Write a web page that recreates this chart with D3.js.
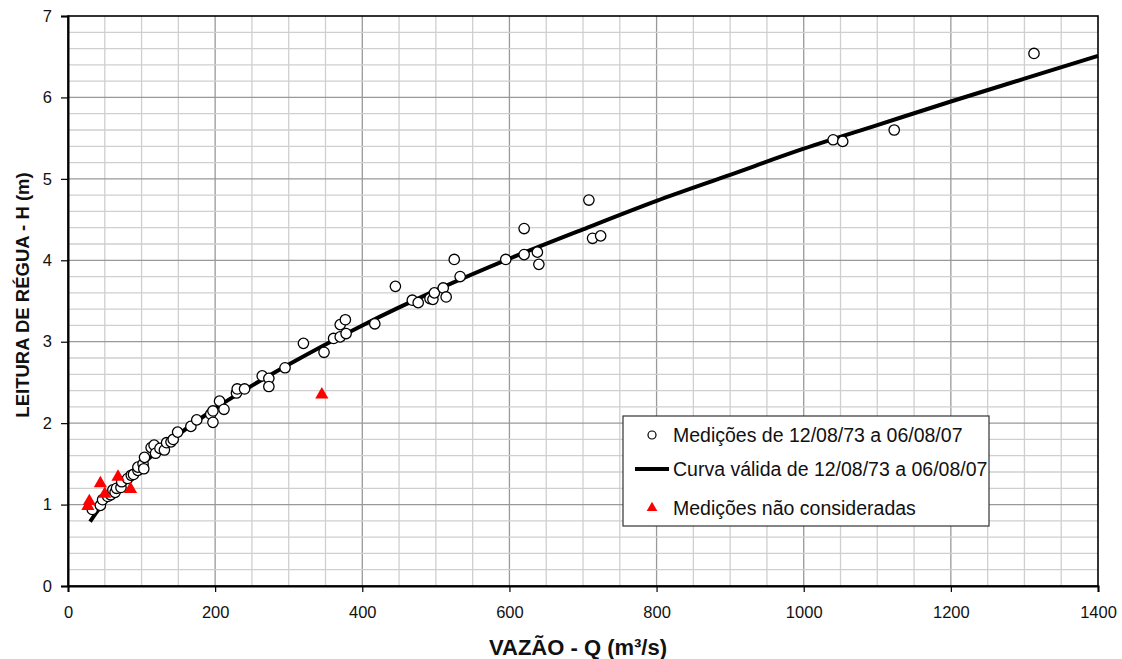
<!DOCTYPE html>
<html>
<head>
  <meta charset="utf-8">
  <title>Curva-chave</title>
  <script src="https://cdn.jsdelivr.net/npm/d3@7"></script>
  <style>
    body { margin: 0; background: #fff; }
    svg text { font-family: Arial, "Liberation Sans", sans-serif; fill: #111; }
  </style>
</head>
<body>
<script>

// measured points (Q m3/s, H m)
var medQ = [33,44,47,54,58,61,64,66,72,73,81,86,89,95,95,102,103,104,113,117,119,125,131,134,140,143,149,
            167,175,194,197,197,206,212,229,230,240,264,273,273,295,320,348,361,370,370,377,378,417,445,
            468,476,492,496,498,510,514,525,533,595,620,620,638,640,708,713,724,1040,1053,1123,1313];
var medH = [0.94,0.99,1.06,1.10,1.12,1.18,1.15,1.20,1.21,1.28,1.32,1.36,1.37,1.42,1.46,1.50,1.44,1.58,1.70,1.73,1.63,1.69,1.67,1.76,1.77,1.80,1.89,
            1.96,2.04,2.11,2.15,2.01,2.27,2.17,2.37,2.42,2.42,2.58,2.55,2.45,2.68,2.98,2.87,3.04,3.06,3.21,3.27,3.10,3.22,3.68,
            3.51,3.48,3.53,3.52,3.60,3.66,3.55,4.01,3.80,4.01,4.39,4.07,4.10,3.95,4.74,4.27,4.30,5.48,5.46,5.60,6.54];

// discarded measurements
var naoQ = [27,29,44,50,68,85,345];
var naoH = [0.98,1.04,1.26,1.13,1.34,1.19,2.35];

// rating curve
var curvaQ = [30,40,50,75,100,150,200,300,400,500,600,700,800,900,1000,1100,1200,1300,1400];
var curvaH = [0.79,0.92,1.03,1.28,1.49,1.86,2.18,2.72,3.20,3.63,4.02,4.38,4.73,5.05,5.37,5.66,5.95,6.23,6.51];

var xTicks = [0,200,400,600,800,1000,1200,1400];
var yTicks = [0,1,2,3,4,5,6,7];

var legendLabels = ["Medições de 12/08/73 a 06/08/07",
                    "Curva válida de 12/08/73 a 06/08/07",
                    "Medições não consideradas"];

var W = 1122, H = 659;
var m = {left: 68, right: 24, top: 16, bottom: 73};

var svg = d3.select("body").append("svg")
    .attr("width", W)
    .attr("height", H);

var x = d3.scaleLinear().domain([0, 1400]).range([m.left, W - m.right]);
var y = d3.scaleLinear().domain([0, 7]).range([H - m.bottom, m.top]);

// grid
var g = svg.append("g");
g.selectAll(".vmin").data(d3.range(50, 1400, 50))
  .enter().append("line")
    .attr("x1", function(d) { return x(d); }).attr("x2", function(d) { return x(d); })
    .attr("y1", y(0)).attr("y2", y(7))
    .attr("stroke", function(d) { return d % 200 == 0 ? "#999" : "#cfcfcf"; })
    .attr("stroke-width", 1.3);
g.selectAll(".hmin").data(d3.range(1, 35).map(function(i) { return i * 0.2; }))
  .enter().append("line")
    .attr("x1", x(0)).attr("x2", x(1400))
    .attr("y1", function(d) { return y(d); }).attr("y2", function(d) { return y(d); })
    .attr("stroke", function(d) { return Math.abs(d - Math.round(d)) < 1e-6 ? "#999" : "#cfcfcf"; })
    .attr("stroke-width", 1.3);

// frame
svg.append("rect")
    .attr("x", x(0)).attr("y", y(7))
    .attr("width", x(1400) - x(0)).attr("height", y(0) - y(7))
    .attr("fill", "none").attr("stroke", "#000").attr("stroke-width", 1.6);

// axes
var xAxis = svg.append("g")
    .attr("transform", "translate(0," + y(0) + ")")
    .call(d3.axisBottom(x).tickValues(xTicks).tickFormat(d3.format("d")).tickSize(6).tickPadding(14));
var yAxis = svg.append("g")
    .attr("transform", "translate(" + x(0) + ",0)")
    .call(d3.axisLeft(y).tickValues(yTicks).tickFormat(d3.format("d")).tickSize(7).tickPadding(9));
[xAxis, yAxis].forEach(function(a) {
  a.attr("font-size", null);
  a.select(".domain").attr("stroke", "#000").attr("stroke-width", 2);
  a.selectAll(".tick line").attr("stroke", "#000").attr("stroke-width", 1.2);
  a.selectAll(".tick text").attr("font-size", 16.5).attr("fill", "#111")
    .style("font-family", "Arial, 'Liberation Sans', sans-serif");
});

// curve
var line = d3.line()
    .x(function(d) { return x(d[0]); })
    .y(function(d) { return y(d[1]); })
    .curve(d3.curveMonotoneX);
svg.append("path")
    .datum(d3.zip(curvaQ, curvaH))
    .attr("d", line)
    .attr("fill", "none")
    .attr("stroke", "#000")
    .attr("stroke-width", 4);

// measurements
svg.selectAll(".med").data(d3.zip(medQ, medH))
  .enter().append("circle")
    .attr("cx", function(d) { return x(d[0]); })
    .attr("cy", function(d) { return y(d[1]); })
    .attr("r", 5.2)
    .attr("fill", "#fff")
    .attr("stroke", "#000")
    .attr("stroke-width", 1.3);

var tri = d3.symbol().type(d3.symbolTriangle).size(75);
svg.selectAll(".nao").data(d3.zip(naoQ, naoH))
  .enter().append("path")
    .attr("d", tri)
    .attr("transform", function(d) { return "translate(" + x(d[0]) + "," + y(d[1]) + ")"; })
    .attr("fill", "#ff0000");

// legend
var lg = svg.append("g").attr("transform", "translate(623,416)");
lg.append("rect")
    .attr("width", 366).attr("height", 110)
    .attr("fill", "#fff").attr("stroke", "#333").attr("stroke-width", 1.2);
var rowY = [19, 53, 92];
lg.append("circle").attr("cx", 29).attr("cy", rowY[0]).attr("r", 4)
    .attr("fill", "#fff").attr("stroke", "#000").attr("stroke-width", 1.2);
lg.append("line").attr("x1", 12).attr("x2", 46).attr("y1", rowY[1]).attr("y2", rowY[1])
    .attr("stroke", "#000").attr("stroke-width", 4);
lg.append("path").attr("d", d3.symbol().type(d3.symbolTriangle).size(50))
    .attr("transform", "translate(29," + rowY[2] + ")").attr("fill", "#ff0000");
lg.selectAll(".lt").data(legendLabels)
  .enter().append("text")
    .attr("x", 50)
    .attr("y", function(d, i) { return rowY[i]; })
    .attr("dy", "0.35em")
    .attr("font-size", 19.5)
    .text(function(d) { return d; });

// titles
svg.append("text")
    .attr("x", 578).attr("y", 655)
    .attr("text-anchor", "middle")
    .attr("font-size", 22).attr("font-weight", "bold")
    .text("VAZÃO - Q (m³/s)");
svg.append("text")
    .attr("transform", "translate(29,295) rotate(-90)")
    .attr("text-anchor", "middle")
    .attr("font-size", 18.5).attr("font-weight", "bold")
    .text("LEITURA DE RÉGUA - H (m)");

</script>
</body>
</html>
